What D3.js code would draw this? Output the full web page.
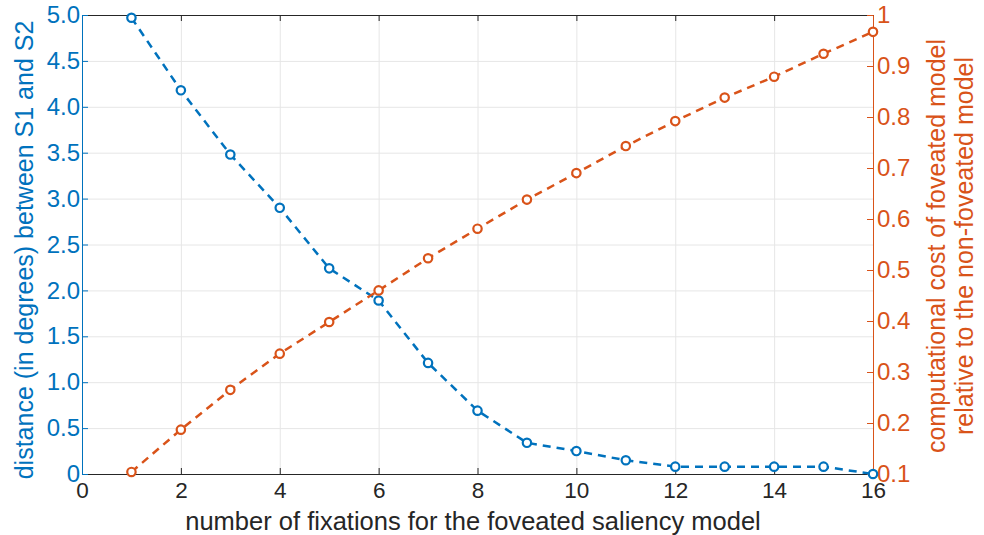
<!DOCTYPE html>
<html>
<head>
<meta charset="utf-8">
<script src="https://cdn.jsdelivr.net/npm/d3@7"></script>
<style>
  body { margin: 0; background: #fff; }
  svg { font-family: "Liberation Sans", Arial, sans-serif; }
</style>
</head>
<body>
<svg width="984" height="535"></svg>
<script>
// data
var fixations = [1, 2, 3, 4, 5, 6, 7, 8, 9, 10, 11, 12, 13, 14, 15, 16];
var distance = [4.97, 4.18, 3.48, 2.90, 2.24, 1.89, 1.21, 0.69, 0.34, 0.25, 0.15, 0.08, 0.08, 0.08, 0.08, 0.0];
var cost = [0.104, 0.187, 0.265, 0.336, 0.398, 0.460, 0.523, 0.581, 0.638, 0.690, 0.743, 0.792, 0.838, 0.879, 0.924, 0.967];
var xTicks = [0, 2, 4, 6, 8, 10, 12, 14, 16];
var leftTicks = [0, 0.5, 1.0, 1.5, 2.0, 2.5, 3.0, 3.5, 4.0, 4.5, 5.0];
var rightTicks = [0.1, 0.2, 0.3, 0.4, 0.5, 0.6, 0.7, 0.8, 0.9, 1];

var blue = "#0072BD", orange = "#D95319";

var svg = d3.select("svg"),
  margin = { top: 15, right: 111, bottom: 61, left: 82 },
  width = +svg.attr("width") - margin.left - margin.right,
  height = +svg.attr("height") - margin.top - margin.bottom,
  g = svg.append("g").attr("transform", "translate(" + margin.left + "," + margin.top + ")");

var x = d3.scaleLinear().domain([0, 16]).range([0, width]);
var yL = d3.scaleLinear().domain([0, 5]).range([height, 0]);
var yR = d3.scaleLinear().domain([0.1, 1]).range([height, 0]);

// grid
g.append("g")
  .attr("class", "grid")
  .attr("transform", "translate(0," + height + ")")
  .call(d3.axisBottom(x).tickValues(xTicks).tickSize(-height).tickFormat(""));
g.append("g")
  .attr("class", "grid")
  .call(d3.axisLeft(yL).tickValues(leftTicks).tickSize(-width).tickFormat(""));
g.selectAll(".grid .domain").remove();
g.selectAll(".grid line").attr("stroke", "#e6e6e6").attr("stroke-width", 1);

// top box line with ticks
g.append("g")
  .call(d3.axisTop(x).tickValues(xTicks).tickSize(-6).tickFormat(""))
  .call(function(a) {
    a.select(".domain").attr("stroke", "#262626");
    a.selectAll("line").attr("stroke", "#262626");
  });

// bottom axis
g.append("g")
  .attr("transform", "translate(0," + height + ")")
  .call(d3.axisBottom(x).tickValues(xTicks).tickSize(-6).tickPadding(5).tickFormat(d3.format("d")))
  .call(function(a) {
    a.select(".domain").attr("stroke", "#262626");
    a.selectAll("line").attr("stroke", "#262626");
    a.selectAll("text").attr("fill", "#262626").attr("font-size", 22.5).attr("dy", "0.85em");
  });

// left axis
g.append("g")
  .call(d3.axisLeft(yL).tickValues(leftTicks).tickSize(-6).tickPadding(2)
    .tickFormat(function(d) { return d === 0 ? "0" : d3.format(".1f")(d); }))
  .call(function(a) {
    a.select(".domain").attr("stroke", blue);
    a.selectAll("line").attr("stroke", blue);
    a.selectAll("text").attr("fill", blue).attr("font-size", 24);
  });

// right axis
g.append("g")
  .attr("transform", "translate(" + width + ",0)")
  .call(d3.axisRight(yR).tickValues(rightTicks).tickSize(-6).tickPadding(4)
    .tickFormat(function(d) { return d === 1 ? "1" : d3.format(".1f")(d); }))
  .call(function(a) {
    a.select(".domain").attr("stroke", orange);
    a.selectAll("line").attr("stroke", orange);
    a.selectAll("text").attr("fill", orange).attr("font-size", 24);
  });

// series
var series = [
  { values: distance, y: yL, color: blue },
  { values: cost, y: yR, color: orange }
];

series.forEach(function(s) {
  var pts = fixations.map(function(f, i) { return [f, s.values[i]]; });
  var line = d3.line()
    .x(function(d) { return x(d[0]); })
    .y(function(d) { return s.y(d[1]); });

  g.append("path")
    .datum(pts)
    .attr("d", line)
    .attr("fill", "none")
    .attr("stroke", s.color)
    .attr("stroke-width", 2.5)
    .attr("stroke-dasharray", "8,6");

  g.selectAll(null)
    .data(pts)
    .enter().append("circle")
    .attr("cx", function(d) { return x(d[0]); })
    .attr("cy", function(d) { return s.y(d[1]); })
    .attr("r", 4.2)
    .attr("fill", "#fff")
    .attr("stroke", s.color)
    .attr("stroke-width", 2.2);
});

// axis titles
svg.append("text")
  .attr("x", 473)
  .attr("y", 530)
  .attr("text-anchor", "middle")
  .attr("font-size", 25.5)
  .attr("fill", "#262626")
  .text("number of fixations for the foveated saliency model");

svg.append("text")
  .attr("transform", "translate(33,250) rotate(-90)")
  .attr("text-anchor", "middle")
  .attr("font-size", 25)
  .attr("fill", blue)
  .text("distance (in degrees) between S1 and S2");

var rt = svg.append("text")
  .attr("transform", "translate(945,246) rotate(-90)")
  .attr("text-anchor", "middle")
  .attr("font-size", 25)
  .attr("fill", orange);
rt.append("tspan").attr("x", 0).attr("dy", 0).text("computational cost of foveated model");
rt.append("tspan").attr("x", 0).attr("dy", 28).text("relative to the non-foveated model");
</script>
</body>
</html>
